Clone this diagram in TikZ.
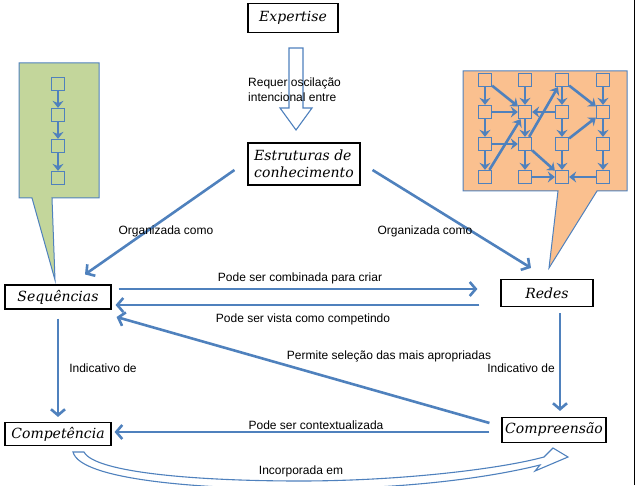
\documentclass[tikz,border=0pt]{standalone}
\usepackage{fontspec}
\newfontfamily\arialfont{Liberation Sans}
\newfontfamily\boxfont{DejaVu Serif}
\usepackage{tikz}
\usetikzlibrary{arrows.meta,positioning,calc}
\definecolor{ppblue}{RGB}{79,129,189}
\definecolor{callgreen}{RGB}{195,214,155}
\definecolor{callorange}{RGB}{250,192,143}

\begin{document}
\begin{tikzpicture}[
    x=1pt, y=1pt,
    concept/.style={rectangle, draw=black, line width=1.1pt, fill=white,
                    inner sep=2pt, font=\boxfont\fontsize{14}{17}\selectfont\itshape},
    lbl/.style={font=\arialfont\fontsize{12}{15}\selectfont, inner sep=1pt},
    flow/.style={draw=ppblue, line width=2.6pt,
                 -{Straight Barb[length=6pt,width=14pt]}},
    mini/.style={draw=ppblue, line width=2.6pt,
                 -{Stealth[length=7pt,width=11pt]}},
    cell/.style={rectangle, draw=ppblue, line width=1.3pt, fill=#1,
                 minimum size=13pt, inner sep=0pt},
    callout/.style={draw=ppblue, line width=1pt, fill=#1},
    hollow/.style={draw=ppblue, line width=1.1pt, fill=white},
]
    \useasboundingbox (0,0) rectangle (637,485);

    % Callouts
    \draw[callout=callgreen] (19,422) -- (99,422) -- (99,287) -- (52,287)
        -- (55,205) -- (32,287) -- (19,287) -- cycle;
    \draw[callout=callorange] (463,414) -- (627,414) -- (627,294) -- (597,294)
        -- (549,217) -- (558,294) -- (463,294) -- cycle;

    % Sequence of squares (green)
    \foreach \r/\y in {1/401,2/370,3/339,4/307}
        \node[cell=callgreen] (s\r) at (58,\y) {};
    \foreach \r/\s in {1/2,2/3,3/4}
        \draw[mini] (s\r) -- (s\s);

    % Network of squares (orange)
    \foreach \c/\x in {1/485,2/525,3/562,4/603} {
        \foreach \r/\y in {1/405,2/373,3/341,4/308}
            \node[cell=callorange] (g\r\c) at (\x,\y) {};
    }
    \foreach \c in {1,...,4} {
        \foreach \r/\s in {1/2,2/3,3/4}
            \draw[mini] (g\r\c) -- (g\s\c);
    }
    \draw[mini] (g11) -- (g22);
    \draw[mini] (g21) -- (g22);
    \draw[mini] (g31) -- (g32);
    \draw[mini] (g41) -- (g22);
    \draw[mini] (g32) -- (g13);
    \draw[mini] (g23) -- (g22);
    \draw[mini] (g13) -- (g24);
    \draw[mini] (g33) -- (g24);
    \draw[mini] (g32) -- (g43);
    \draw[mini] (g42) -- (g43);
    \draw[mini] (g44) -- (g43);

    % Concepts
    \node[concept, minimum width=90pt, minimum height=29pt] (expt) at (293,467) {Expertise};
    \node[concept, minimum width=112pt, minimum height=42pt, align=left] (estr) at (304,321)
        {Estruturas de\\conhecimento};
    \node[concept, minimum width=106pt, minimum height=24pt] (seq) at (58,188) {Sequências};
    \node[concept, minimum width=92pt, minimum height=27pt] (redes) at (547,192) {Redes};
    \node[concept, minimum width=106pt, minimum height=23pt] (comp) at (58,51) {Competência};
    \node[concept, minimum width=104pt, minimum height=25pt] (compre) at (554,55) {Compreensão};

    % Hollow arrow between Expertise and Estruturas
    \coordinate (osc) at (296,396);
    \draw[hollow] ($(osc)+(-7,41)$) -- ++(14,0) -- ++(0,-60) -- ++(9,0)
        -- ++(-16,-22) -- ++(-16,22) -- ++(9,0) -- cycle;
    \node[lbl, anchor=west, align=left] (req) at (247,395)
        {Requer oscilação\\intencional entre};

    % Connections
    \draw[flow] ($(estr.west)+(-13,-6)$) -- ($(seq.north)+(27,10)$);
    \draw[flow] ($(estr.east)+(12,-6)$) -- ($(redes.north)+(-16,11)$);
    \draw[flow] ($(seq.east)+(7,8)$) -- ($(redes.west)+(-23,4)$);
    \draw[flow] ($(redes.west)+(-21,-12)$) -- ($(seq.east)+(4,-8)$);
    \draw[flow] ($(compre.west)+(-12,7)$) -- ($(seq.east)+(5,-20)$);
    \draw[flow] ($(compre.west)+(-12,-2)$) -- ($(comp.east)+(3,2)$);
    \draw[flow] ($(seq.south)+(0,-9)$) -- ($(comp.north)+(0,5)$);
    \draw[flow] ($(redes.south)+(13,-6)$) -- ($(compre.north)+(6,6)$);

    % Curved hollow arrow below
    \draw[hollow] (73,33) .. controls (80,5) and (200,-4) .. (300,-4)
        .. controls (420,-4) and (500,10) .. (540,20) -- (535,14) -- (568,28)
        -- (553,37) -- (544,28) .. controls (500,16) and (400,4) .. (300,4)
        .. controls (200,4) and (95,12) .. (84,33) -- cycle;

    % Labels
    \node[lbl] (orgL) at (166,254) {Organizada como};
    \node[lbl] (orgR) at (425,254) {Organizada como};
    \node[lbl] (comb) at (300,207) {Pode ser combinada para criar};
    \node[lbl] (vista) at (303,166) {Pode ser vista como competindo};
    \node[lbl] (perm) at (389,129) {Permite seleção das mais apropriadas};
    \node[lbl] (indL) at (103,117) {Indicativo de};
    \node[lbl] (indR) at (521,117) {Indicativo de};
    \node[lbl] (ctx) at (316,60) {Pode ser contextualizada};
    \node[lbl] (inc) at (301,14) {Incorporada em};

    % Frame edge
    \draw[line width=0.8pt] (634,0) -- (634,485);
\end{tikzpicture}
\end{document}
